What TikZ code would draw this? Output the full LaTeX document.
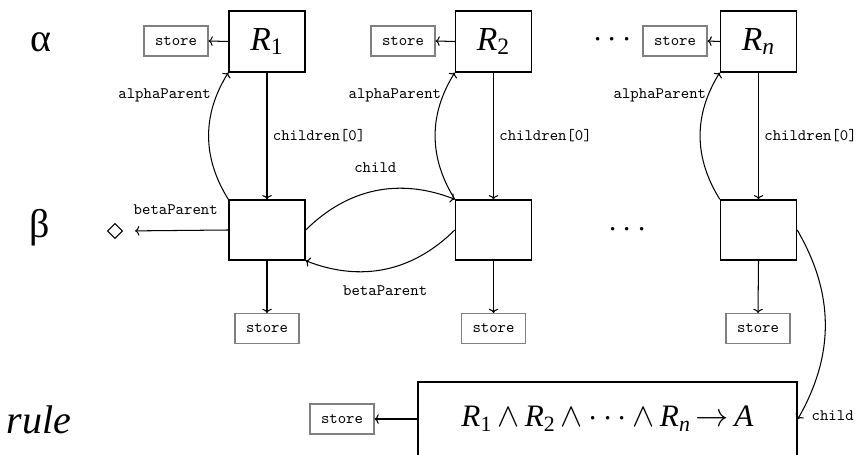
\documentclass[tikz,border=0pt]{standalone}
\usepackage{fontspec}
\setmainfont{Liberation Serif}
\usetikzlibrary{shapes.geometric,arrows.meta}
\newcommand{\Rsub}[1]{\textit{R}\textsubscript{#1}}
\tikzset{
  rbox/.style={draw, line width=0.9pt, minimum width=47.5pt, minimum height=38pt, inner sep=0pt, font=\fontsize{21}{24}\selectfont},
  bbox/.style={draw, line width=0.9pt, minimum width=47.5pt, minimum height=37.5pt, inner sep=0pt},
  storebox/.style={draw=gray, line width=0.7pt, minimum width=40pt, minimum height=18.75pt, inner sep=0pt, font=\ttfamily},
  lbl/.style={font=\ttfamily},
  rowlbl/.style={font=\fontsize{25}{28}\selectfont},
  dotsl/.style={font=\fontsize{20}{24}\selectfont, anchor=base, inner sep=0pt},
  conn/.style={-{To[length=2.6pt,width=6pt]}, line width=0.65pt},
}
\begin{document}
\begin{tikzpicture}[x=0.625pt, y=-0.625pt]
\useasboundingbox (0,0) rectangle (856,455);
% row labels
\node[rowlbl] (la) at (41,42) {α};
\node[rowlbl] (lb) at (40,228) {β};
\node[rowlbl] (lr) at (39,420) {\itshape rule};
% alpha nodes
\node[rbox] (R1) at (267,41.5) {\Rsub{1}};
\node[rbox] (R2) at (493.5,41.5) {\Rsub{2}};
\node[rbox] (Rn) at (758.5,41.5) {\Rsub{\textit{n}}};
\node[storebox] (S1) at (176,41) {store};
\node[storebox] (S2) at (403,41) {store};
\node[storebox] (Sn) at (675,41) {store};
\node[dotsl] (d1) at (612.5,48) {$\cdots$};
% beta nodes
\node[bbox] (B1) at (267,230) {};
\node[bbox] (B2) at (493.5,230) {};
\node[bbox] (Bn) at (758.5,230) {};
\node[storebox] (T1) at (267,328.5) {store};
\node[storebox] (T2) at (493.5,328.5) {store};
\node[storebox] (Tn) at (758,328.5) {store};
\node[dotsl] (d2) at (627.5,238) {$\cdots$};
\node[draw, diamond, line width=0.7pt, inner sep=0pt, minimum width=9.5pt, minimum height=9.5pt] (dm) at (115,231) {};
% rule
\node[draw, line width=0.9pt, minimum width=237pt, minimum height=46pt, inner sep=0pt, font=\fontsize{19.5}{23}\selectfont] (RB) at (607.5,419)
  {\Rsub{1}\,$\wedge$\,\Rsub{2}\,$\wedge\cdots\wedge$\,\Rsub{\textit{n}}\,$\to$\,\textit{A}};
\node[storebox] (SR) at (342,419) {store};
% connectors
\foreach \r/\s in {R1/S1,R2/S2,Rn/Sn}{
  \draw[conn] (\r.west) -- (\s.east);
}
\foreach \b/\t in {B1/T1,B2/T2,Bn/Tn}{
  \draw[conn] (\b.south) -- (\t.north);
}
\draw[conn] (R1.south) -- node[lbl, right] {children[0]} (B1.north);
\draw[conn] (R2.south) -- node[lbl, right] {children[0]} (B2.north);
\draw[conn] (Rn.south) -- node[lbl, right] {children[0]} (Bn.north);
\draw[conn] (B1.north west) to[bend left=32] node[lbl, pos=0.82, anchor=east] {alphaParent} (R1.south west);
\draw[conn] (B2.north west) to[bend left=32] node[lbl, pos=0.82, anchor=east, inner sep=1pt] {alphaParent} (R2.south west);
\draw[conn] (Bn.north west) to[bend left=32] node[lbl, pos=0.82, anchor=east, inner sep=1pt] {alphaParent} (Rn.south west);
\draw[conn] (B1.east) to[bend left=33] node[lbl, midway, above=8pt] {child} (B2.north west);
\draw[conn] (B2.west) to[bend left=33] node[lbl, midway, below=7pt] {betaParent} (B1.south east);
\draw[conn, shorten >=7.5pt] (B1.west) -- node[lbl, above=6pt] {betaParent} (dm.east);
\draw[conn] (Bn.east) to[bend left=30] node[lbl, at end, anchor=west, xshift=5pt, yshift=2pt] {child} (RB.east);
\draw[conn] (RB.west) -- (SR.east);
\end{tikzpicture}
\end{document}
